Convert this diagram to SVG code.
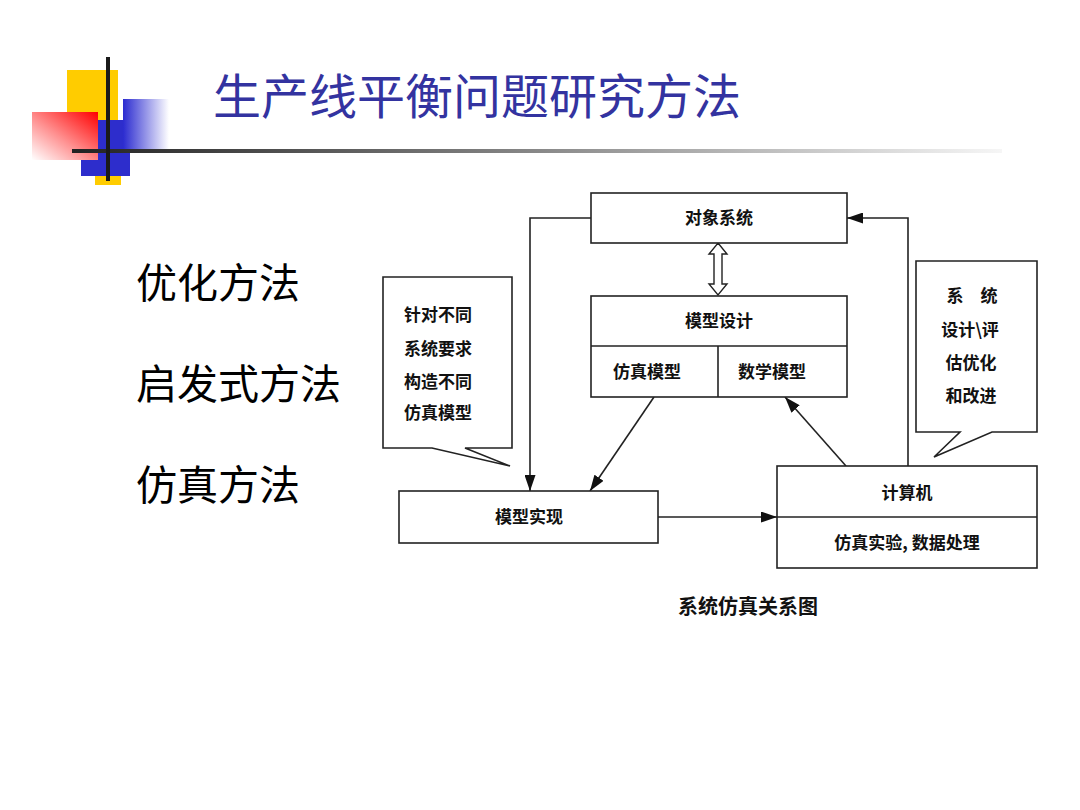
<svg xmlns="http://www.w3.org/2000/svg" width="1080" height="810" viewBox="0 0 1080 810">
<defs>
<linearGradient id="gRed" x1="1" y1="0" x2="0" y2="1">
<stop offset="0" stop-color="#ff0000"/>
<stop offset="0.55" stop-color="#ff9090"/>
<stop offset="1" stop-color="#ffffff"/>
</linearGradient>
<linearGradient id="gBlue" x1="0" y1="0" x2="1" y2="0">
<stop offset="0" stop-color="#2b2bd0"/>
<stop offset="1" stop-color="#ffffff"/>
</linearGradient>
<linearGradient id="gLine" x1="0" y1="0" x2="1" y2="0">
<stop offset="0" stop-color="#222222"/>
<stop offset="0.5" stop-color="#888888"/>
<stop offset="1" stop-color="#f6f6f6"/>
</linearGradient>
<marker id="ah" viewBox="0 0 16 11" refX="16" refY="5.5" markerWidth="16" markerHeight="11" markerUnits="userSpaceOnUse" orient="auto">
<path d="M0,0 L16,5.5 L0,11 Z" fill="#111"/>
</marker>
</defs>
<style>
.box{fill:#fff;stroke:#222;stroke-width:1.6}
.ln{fill:none;stroke:#222;stroke-width:1.6}
.con{fill:none;stroke:#222;stroke-width:1.6;marker-end:url(#ah)}
.t{font-family:"Noto Sans CJK SC",sans-serif;font-size:17px;font-weight:bold;fill:#111;text-anchor:middle}
.big{font-family:"Liberation Serif","Noto Sans CJK SC",serif;font-size:41px;fill:#000}
</style>
<rect width="1080" height="810" fill="#fff"/>
<g id="logo">
<rect x="67" y="70" width="51" height="50" fill="#ffcc00"/>
<rect x="95" y="170" width="26" height="15" fill="#ffcc00"/>
<rect x="81" y="120" width="49" height="56" fill="#2d2dcc"/>
<rect x="123" y="99" width="46" height="51" fill="url(#gBlue)"/>
<rect x="32" y="112" width="66" height="48" fill="url(#gRed)"/>
<rect x="72" y="149" width="930" height="4" fill="url(#gLine)"/>
<rect x="106" y="57" width="4" height="124" fill="#1a1a1a"/>
</g>
<g id="title">
<text x="213" y="114" font-family="Noto Sans CJK SC,sans-serif" font-size="48" fill="#3333a0">生产线平衡问题研究方法</text>
</g>
<g id="list">
<text class="big" x="136" y="298">优化方法</text>
<text class="big" x="136" y="399">启发式方法</text>
<text class="big" x="136" y="500">仿真方法</text>
</g>
<g id="connectors">
<polyline class="con" points="591,218 530,218 530,491"/>
<line class="con" x1="654" y1="397" x2="590" y2="491"/>
<line class="con" x1="846" y1="466" x2="785" y2="397"/>
<line class="con" x1="658" y1="517" x2="777" y2="517"/>
<polyline class="con" points="908,466 908,218 847,218"/>
<polygon points="718,243 727,254 722,254 722,284 727,284 718,295 709,284 714,284 714,254 709,254" fill="#fff" stroke="#222" stroke-width="1.4"/>
</g>
<g id="n-object">
<rect class="box" x="591" y="193" width="256" height="50"/>
<text class="t" x="719" y="224">对象系统</text>
</g>
<g id="n-design">
<rect class="box" x="591" y="296" width="256" height="101"/>
<line class="ln" x1="591" y1="346" x2="847" y2="346"/>
<line class="ln" x1="718" y1="346" x2="718" y2="397"/>
<text class="t" x="719" y="327">模型设计</text>
<text class="t" x="647" y="378">仿真模型</text>
<text class="t" x="772" y="378">数学模型</text>
</g>
<g id="n-impl">
<rect class="box" x="399" y="491" width="259" height="52"/>
<text class="t" x="529" y="523">模型实现</text>
</g>
<g id="n-computer">
<rect class="box" x="777" y="466" width="260" height="102"/>
<line class="ln" x1="777" y1="517" x2="1037" y2="517"/>
<text class="t" x="907" y="499">计算机</text>
<text class="t" x="907" y="549">仿真实验, 数据处理</text>
</g>
<g id="callout-left">
<polygon class="box" points="383,277 512,277 512,448 465,448 510,466 432,448 383,448"/>
<text class="t" x="438" y="321">针对不同</text>
<text class="t" x="438" y="355">系统要求</text>
<text class="t" x="438" y="388">构造不同</text>
<text class="t" x="438" y="419">仿真模型</text>
</g>
<g id="callout-right">
<polygon class="box" points="916,261 1037,261 1037,432 992,432 934,457 960,432 916,432"/>
<text class="t" x="972" y="302">系　统</text>
<text class="t" x="970" y="336">设计\评</text>
<text class="t" x="971" y="369">估优化</text>
<text class="t" x="971" y="402">和改进</text>
</g>
<g id="caption">
<text class="t" x="748" y="614" style="font-size:20px">系统仿真关系图</text>
</g>
</svg>
